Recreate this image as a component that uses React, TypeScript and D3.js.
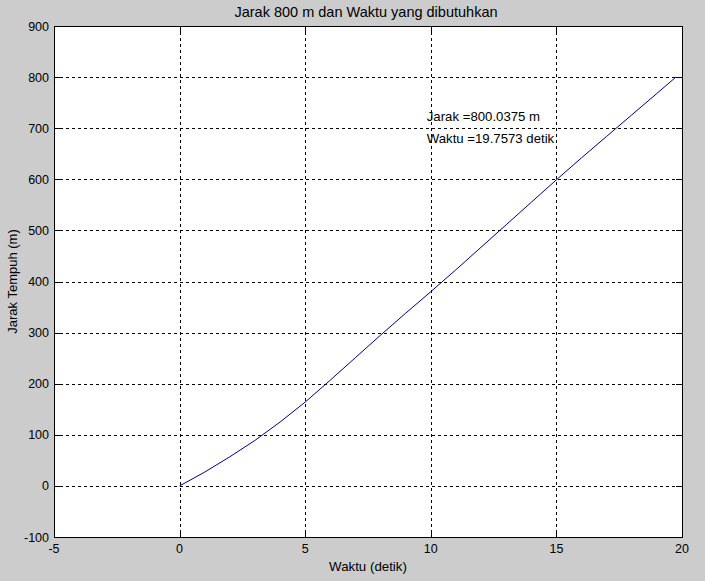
import * as d3 from "d3";

const W = 705;
const H = 581;
const MARGIN = { top: 26, right: 23, bottom: 44, left: 54 };

// waktu (detik) and jarak tempuh (m)
const waktu = [0, 1, 2, 3, 4, 5, 6, 7, 8, 9, 10, 11, 12, 13, 14, 15, 16, 17, 18, 19, 19.7573];
const jarak = [0, 27, 57, 89, 125, 164, 207, 251, 295, 338, 380, 423, 467, 511, 555, 599, 642, 684, 726, 768, 800.0375];

const xTicks = [-5, 0, 5, 10, 15, 20];
const yTicks = [-100, 0, 100, 200, 300, 400, 500, 600, 700, 800, 900];

const annotation = ["Jarak =800.0375 m", "Waktu =19.7573 detik"];

const FONT = "'Liberation Sans', Arial, sans-serif";

export default function App() {
  const boundsWidth = W - MARGIN.left - MARGIN.right;
  const boundsHeight = H - MARGIN.top - MARGIN.bottom;

  const xScale = d3.scaleLinear().domain([-5, 20]).range([0, boundsWidth]);
  const yScale = d3.scaleLinear().domain([-100, 900]).range([boundsHeight, 0]);

  const points = waktu.map((t, i) => [t, jarak[i]] as [number, number]);
  const line = d3
    .line<[number, number]>()
    .x((d) => xScale(d[0]))
    .y((d) => yScale(d[1]));

  const px = (v: number) => Math.round(v) + 0.5;

  return (
    <svg
      width={W}
      height={H}
      style={{ position: "absolute", top: 0, left: 0, display: "block" }}
      fontFamily={FONT}
    >
      <rect width={W} height={H} fill="#cccccc" />
      <g transform={`translate(${MARGIN.left}, ${MARGIN.top})`}>
        <rect width={boundsWidth} height={boundsHeight} fill="#ffffff" />

        {/* grid */}
        {xTicks.slice(1, -1).map((v) => (
          <line
            key={"gx" + v}
            x1={px(xScale(v))}
            x2={px(xScale(v))}
            y1={0}
            y2={boundsHeight}
            stroke="#000"
            strokeDasharray="3,3"
            shapeRendering="crispEdges"
          />
        ))}
        {yTicks.slice(1, -1).map((v) => (
          <line
            key={"gy" + v}
            x1={0}
            x2={boundsWidth}
            y1={px(yScale(v))}
            y2={px(yScale(v))}
            stroke="#000"
            strokeDasharray="3,3"
            shapeRendering="crispEdges"
          />
        ))}

        {/* inward ticks */}
        {xTicks.map((v) => (
          <g key={"tx" + v} stroke="#000" shapeRendering="crispEdges">
            <line x1={px(xScale(v))} x2={px(xScale(v))} y1={boundsHeight} y2={boundsHeight - 6} />
            <line x1={px(xScale(v))} x2={px(xScale(v))} y1={0} y2={6} />
          </g>
        ))}
        {yTicks.map((v) => (
          <g key={"ty" + v} stroke="#000" shapeRendering="crispEdges">
            <line x1={0} x2={6} y1={px(yScale(v))} y2={px(yScale(v))} />
            <line x1={boundsWidth} x2={boundsWidth - 6} y1={px(yScale(v))} y2={px(yScale(v))} />
          </g>
        ))}

        <path d={line(points) ?? ""} fill="none" stroke="#00008f" strokeWidth={1} />

        {/* box */}
        <rect
          x={0.5}
          y={0.5}
          width={boundsWidth}
          height={boundsHeight}
          fill="none"
          stroke="#000"
          shapeRendering="crispEdges"
        />

        {/* tick labels */}
        {xTicks.map((v) => (
          <text
            key={"lx" + v}
            x={xScale(v)}
            y={boundsHeight + 16}
            textAnchor="middle"
            fontSize={12.5}
            fill="#000"
          >
            {v}
          </text>
        ))}
        {yTicks.map((v) => (
          <text
            key={"ly" + v}
            x={-5}
            y={yScale(v) + 4.5}
            textAnchor="end"
            fontSize={12.5}
            fill="#000"
          >
            {v}
          </text>
        ))}

        {/* annotation */}
        {annotation.map((s, i) => (
          <text
            key={s}
            x={xScale(9.84)}
            y={yScale(714) + i * 21.5}
            fontSize={13.2}
            fill="#000"
          >
            {s}
          </text>
        ))}

        <text
          x={boundsWidth / 2 - 2}
          y={-9.5}
          textAnchor="middle"
          fontSize={14.5}
          fill="#000"
        >
          Jarak 800 m dan Waktu yang dibutuhkan
        </text>
        <text
          x={boundsWidth / 2}
          y={boundsHeight + 34}
          textAnchor="middle"
          fontSize={13.3}
          fill="#000"
        >
          Waktu (detik)
        </text>
        <text
          transform={`translate(${-37}, ${boundsHeight / 2}) rotate(-90)`}
          textAnchor="middle"
          fontSize={13}
          fill="#000"
        >
          Jarak Tempuh (m)
        </text>
      </g>
    </svg>
  );
}
